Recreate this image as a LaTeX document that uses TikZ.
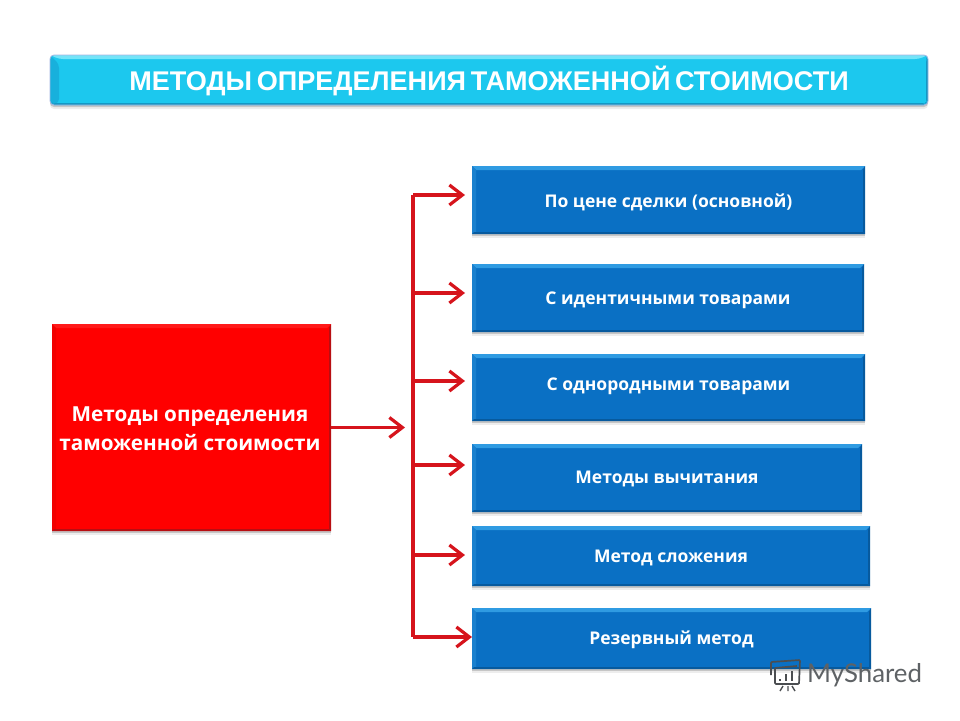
\documentclass[tikz,border=0pt]{standalone}
\usepackage{fontspec}
\setmainfont{Open Sans}
\newfontfamily\titlefont[WordSpace=0.62]{Liberation Sans}
\newfontfamily\markfont{Lato}
\usetikzlibrary{arrows.meta,shadows}
\definecolor{boxblue}{HTML}{0A70C4}
\definecolor{boxtop}{HTML}{2F9BE2}
\definecolor{boxleft}{HTML}{1A80CE}
\definecolor{boxlow}{HTML}{075A9E}
\definecolor{linered}{HTML}{D6141C}
\definecolor{cyanmain}{HTML}{1CC8EE}
\definecolor{cyantop}{HTML}{74E4F8}
\definecolor{cyanleft}{HTML}{18B0DC}
\definecolor{cyanlow}{HTML}{1498C4}
\definecolor{redlow}{HTML}{B80E12}
\definecolor{marktext}{HTML}{5E6265}
\newcommand{\nudge}[2]{\raisebox{#1pt}[\height][\depth]{#2}}
\tikzset{
  x=1pt,y=-1pt,
  softshadow/.style={general shadow={fill=black,opacity=.07,shadow xshift=0pt,shadow yshift=-4pt},
                     general shadow={fill=black,opacity=.16,shadow xshift=0pt,shadow yshift=-2pt}},
  blockbase/.style={softshadow,inner sep=0pt,align=center,text=white,anchor=center},
  bevel/.style n args={5}{path picture={
    \fill[#1] (path picture bounding box.north west) -- (path picture bounding box.north east)
       -- ([xshift=-#5pt,yshift=-4pt]path picture bounding box.north east)
       -- ([xshift=#5pt,yshift=-4pt]path picture bounding box.north west) -- cycle;
    \fill[#2] (path picture bounding box.north west)
       -- ([xshift=#5pt,yshift=-#5pt]path picture bounding box.north west)
       -- ([xshift=#5pt,yshift=2pt]path picture bounding box.south west)
       -- (path picture bounding box.south west) -- cycle;
    \fill[#3] (path picture bounding box.south west)
       -- (path picture bounding box.south east)
       -- ([xshift=-2pt,yshift=2pt]path picture bounding box.south east)
       -- ([xshift=2pt,yshift=2pt]path picture bounding box.south west) -- cycle;
    \fill[#4] (path picture bounding box.north east)
       -- (path picture bounding box.south east)
       -- ([xshift=-2pt,yshift=2pt]path picture bounding box.south east)
       -- ([xshift=-2pt,yshift=-4pt]path picture bounding box.north east) -- cycle;
  }},
  methodbox/.style={blockbase,fill=boxblue,bevel={boxtop}{boxleft}{boxlow}{boxlow}{4},
     font=\fontsize{17.5}{21}\selectfont\bfseries},
  sourcebox/.style={blockbase,fill=red,bevel={red!90!white}{red!95!black}{redlow}{redlow}{4},
     font=\fontsize{20.7}{29}\selectfont\bfseries},
  titlebox/.style={blockbase,fill=cyanmain,rounded corners=4pt,draw=cyan!40!blue!35!white,line width=.8pt,
     bevel={cyantop}{cyanleft}{cyanlow}{cyanlow}{9},
     font=\titlefont\fontsize{27.05}{30}\selectfont\bfseries},
  link/.style={draw=linered,line width=3.2pt},
  arrowlink/.style={link,-{Straight Barb[length=13pt,width=20pt,line width=3.2pt]}},
  marklabel/.style={text=marktext,inner sep=0pt,font=\markfont\fontsize{25.8}{30}\selectfont},
  iconline/.style={draw=marktext!80!black,line width=1.7pt},
}
\begin{document}
\begin{tikzpicture}
\useasboundingbox (0,0) rectangle (960,720);
\fill[white] (0,0) rectangle (960,720);

\node[titlebox,minimum width=878pt,minimum height=50pt] (title) at (489,80) {\nudge{-1}{МЕТОДЫ ОПРЕДЕЛЕНИЯ ТАМОЖЕННОЙ СТОИМОСТИ}};

\node[sourcebox,minimum width=279pt,minimum height=207pt] (source) at (191.5,427.5) {\hspace*{-3pt}\nudge{-1.5}{Методы определения}\\\hspace*{-3pt}\nudge{-1.5}{таможенной стоимости}};

\node[methodbox,minimum width=393pt,minimum height=68pt] (m1) at (668.5,200) {\nudge{-2}{По цене сделки (основной)}};
\node[methodbox,minimum width=392pt,minimum height=68pt] (m2) at (668,298) {\nudge{-2}{С идентичными товарами}};
\node[methodbox,minimum width=393pt,minimum height=67pt] (m3) at (668.5,387.5) {\nudge{1}{С однородными товарами}};
\node[methodbox,minimum width=390pt,minimum height=68pt] (m4) at (667,478) {\nudge{-1}{Методы вычитания}};
\node[methodbox,minimum width=398pt,minimum height=60pt] (m5) at (671,556) {\nudge{-2}{Метод сложения}};
\node[methodbox,minimum width=399pt,minimum height=61pt] (m6) at (671.5,638.5) {\nudge{-1}{Резервный метод}};

\coordinate (hub) at (405,427.5);
\coordinate (top) at (413,195);
\coordinate (t2) at (413,293);
\coordinate (t3) at (413,381);
\coordinate (t4) at (413,465);
\coordinate (t5) at (413,555);
\coordinate (bot) at (413,637);
\coordinate (e1) at (465,195);
\coordinate (e2) at (465,293);
\coordinate (e3) at (465,381);
\coordinate (e4) at (465,465);
\coordinate (e5) at (465,555);
\coordinate (e6) at (472,637);

\draw[arrowlink] (source.east) -- (hub);
\draw[link] (top) -- (bot);
\draw[arrowlink] (top) -- (e1);
\draw[arrowlink] (t2) -- (e2);
\draw[arrowlink] (t3) -- (e3);
\draw[arrowlink] (t4) -- (e4);
\draw[arrowlink] (t5) -- (e5);
\draw[arrowlink] (bot) -- (e6);

% watermark
\node[marklabel,anchor=west] (mark) at (807,675) {MyShared};
\draw[iconline,rounded corners=1pt] (771,675) -- (771,662) -- (800,660) -- (799,684) -- (775,684) -- (775,668) -- (797,666);
\draw[iconline,line width=2.4pt] (780,679) -- (780,681) (786,674) -- (786,681) (792,671) -- (792,681);
\draw[iconline,line width=1.4pt] (783,686) -- (780,691) (788,686) -- (788,691) (792,686) -- (795,691);
\end{tikzpicture}
\end{document}
